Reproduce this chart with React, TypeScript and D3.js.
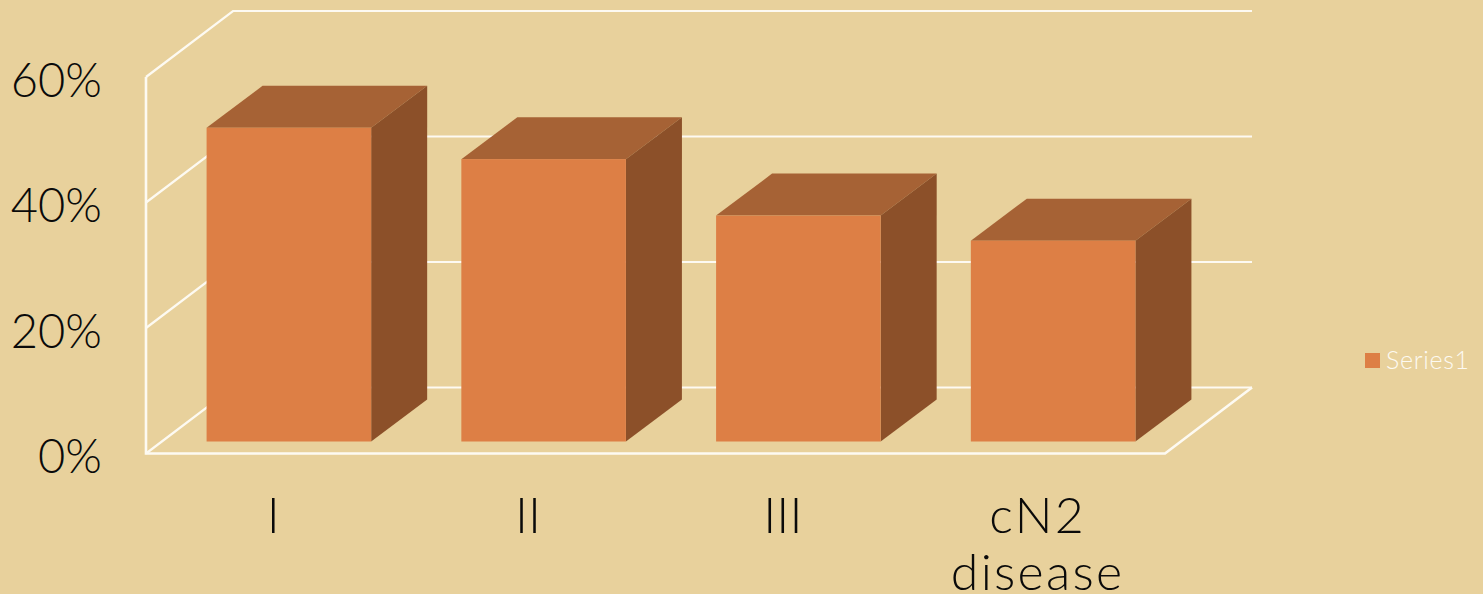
import React from "react";
import * as d3 from "d3";

const categories: string[][] = [["I"], ["II"], ["III"], ["cN2", "disease"]];
const values = [0.5, 0.45, 0.36, 0.32];
const yTicks = [0, 0.2, 0.4, 0.6];
const seriesName = "Series1";

const W = 1483, H = 594;
const BG = "#E8D19C", GRID = "#FDFAF2", FRONT = "#DD7F45", TOP = "#A66235", SIDE = "#8C5029";
const FONT = "Lato, 'Open Sans', sans-serif";
const floorDx = 87, floorDy = 66, barDx = 56, barDy = 42;

const x = d3.scaleBand<number>().domain(d3.range(categories.length)).range([146, 1165]).paddingInner(0.354).paddingOuter(0.177);
const y = d3.scaleLinear().domain([0, 0.6]).range([453.5, 77]);
const pct = d3.format(".0%");
const line = d3.line<[number, number]>();

export default function App() {
  const [x0, x1] = x.range();
  const offX = (floorDx - barDx) / 2, offY = (floorDy - barDy) / 2;
  return (
    <svg width={W} height={H} viewBox={`0 0 ${W} ${H}`} style={{ position: "fixed", left: 0, top: 0, display: "block" }}>
      <rect width={W} height={H} fill={BG} />
      {yTicks.map((t) => (
        <path key={t} fill="none" stroke={GRID} strokeWidth={2.2}
          d={line([[x0, y(t)], [x0 + floorDx, y(t) - floorDy], [x1 + floorDx, y(t) - floorDy]])!} />
      ))}
      <path fill="none" stroke={GRID} strokeWidth={2.6}
        d={line([[x0, y(0.6)], [x0, y(0)], [x1, y(0)], [x1 + floorDx, y(0) - floorDy]])!} />
      {values.map((v, i) => {
        const l = x(i)! + offX, r = l + x.bandwidth();
        const b = y(0) - offY, t = b - (y(0) - y(v));
        return (
          <g key={i}>
            <path fill={TOP} d={line([[l, t], [l + barDx, t - barDy], [r + barDx, t - barDy], [r, t]])! + "Z"} />
            <path fill={SIDE} d={line([[r, t], [r + barDx, t - barDy], [r + barDx, b - barDy], [r, b]])! + "Z"} />
            <rect x={l} y={t} width={r - l} height={b - t} fill={FRONT} />
          </g>
        );
      })}
      {yTicks.map((t) => (
        <text key={t} x={102} y={y(t) + 19.5} textAnchor="end" fontFamily={FONT} fontWeight={300} fontSize={47} fill="#0a0a0a">{pct(t)}</text>
      ))}
      {categories.map((c, i) => (
        <text key={i} textAnchor="middle" fontFamily={FONT} fontWeight={300} fontSize={50}
          letterSpacing={c.length > 1 ? 2.3 : 0} fill="#0a0a0a">
          {c.map((s, j) => (
            <tspan key={s} x={x0 + (x1 - x0) * (i + 0.5) / categories.length} y={533 + j * 57}>{s}</tspan>
          ))}
        </text>
      ))}
      <rect x={1365} y={353} width={15} height={15} fill={FRONT} />
      <text x={1386} y={369} fontFamily={FONT} fontWeight={300} fontSize={25} letterSpacing={0.7} fill={GRID}>{seriesName}</text>
    </svg>
  );
}
